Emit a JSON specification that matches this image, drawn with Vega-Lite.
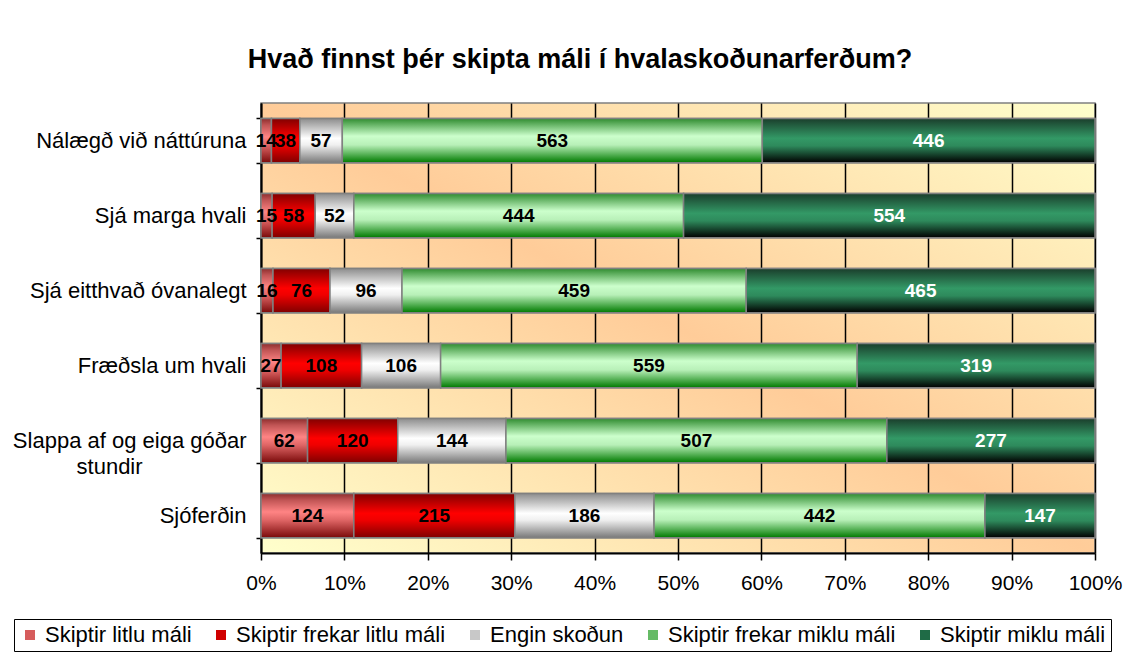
{
  "$schema": "https://vega.github.io/schema/vega-lite/v6.json",
  "width": 834,
  "height": 450,
  "autosize": {"type": "none"},
  "padding": {"left": 261, "top": 103, "right": 29, "bottom": 104},
  "background": "white",
  "title": {
    "text": "Hvað finnst þér skipta máli í hvalaskoðunarferðum?",
    "anchor": "middle",
    "dx": -98,
    "offset": 18,
    "font": "Liberation Sans",
    "fontSize": 27,
    "fontWeight": "bold",
    "color": "black"
  },
  "data": {
    "values": [
      {"cat": "Nálægð við náttúruna", "series": "Skiptir litlu máli", "ord": 1, "n": 14},
      {"cat": "Nálægð við náttúruna", "series": "Skiptir frekar litlu máli", "ord": 2, "n": 38},
      {"cat": "Nálægð við náttúruna", "series": "Engin skoðun", "ord": 3, "n": 57},
      {"cat": "Nálægð við náttúruna", "series": "Skiptir frekar miklu máli", "ord": 4, "n": 563},
      {"cat": "Nálægð við náttúruna", "series": "Skiptir miklu máli", "ord": 5, "n": 446},
      {"cat": "Sjá marga hvali", "series": "Skiptir litlu máli", "ord": 1, "n": 15},
      {"cat": "Sjá marga hvali", "series": "Skiptir frekar litlu máli", "ord": 2, "n": 58},
      {"cat": "Sjá marga hvali", "series": "Engin skoðun", "ord": 3, "n": 52},
      {"cat": "Sjá marga hvali", "series": "Skiptir frekar miklu máli", "ord": 4, "n": 444},
      {"cat": "Sjá marga hvali", "series": "Skiptir miklu máli", "ord": 5, "n": 554},
      {"cat": "Sjá eitthvað óvanalegt", "series": "Skiptir litlu máli", "ord": 1, "n": 16},
      {"cat": "Sjá eitthvað óvanalegt", "series": "Skiptir frekar litlu máli", "ord": 2, "n": 76},
      {"cat": "Sjá eitthvað óvanalegt", "series": "Engin skoðun", "ord": 3, "n": 96},
      {"cat": "Sjá eitthvað óvanalegt", "series": "Skiptir frekar miklu máli", "ord": 4, "n": 459},
      {"cat": "Sjá eitthvað óvanalegt", "series": "Skiptir miklu máli", "ord": 5, "n": 465},
      {"cat": "Fræðsla um hvali", "series": "Skiptir litlu máli", "ord": 1, "n": 27},
      {"cat": "Fræðsla um hvali", "series": "Skiptir frekar litlu máli", "ord": 2, "n": 108},
      {"cat": "Fræðsla um hvali", "series": "Engin skoðun", "ord": 3, "n": 106},
      {"cat": "Fræðsla um hvali", "series": "Skiptir frekar miklu máli", "ord": 4, "n": 559},
      {"cat": "Fræðsla um hvali", "series": "Skiptir miklu máli", "ord": 5, "n": 319},
      {"cat": "Slappa af og eiga góðar stundir", "series": "Skiptir litlu máli", "ord": 1, "n": 62},
      {"cat": "Slappa af og eiga góðar stundir", "series": "Skiptir frekar litlu máli", "ord": 2, "n": 120},
      {"cat": "Slappa af og eiga góðar stundir", "series": "Engin skoðun", "ord": 3, "n": 144},
      {"cat": "Slappa af og eiga góðar stundir", "series": "Skiptir frekar miklu máli", "ord": 4, "n": 507},
      {"cat": "Slappa af og eiga góðar stundir", "series": "Skiptir miklu máli", "ord": 5, "n": 277},
      {"cat": "Sjóferðin", "series": "Skiptir litlu máli", "ord": 1, "n": 124},
      {"cat": "Sjóferðin", "series": "Skiptir frekar litlu máli", "ord": 2, "n": 215},
      {"cat": "Sjóferðin", "series": "Engin skoðun", "ord": 3, "n": 186},
      {"cat": "Sjóferðin", "series": "Skiptir frekar miklu máli", "ord": 4, "n": 442},
      {"cat": "Sjóferðin", "series": "Skiptir miklu máli", "ord": 5, "n": 147}
    ]
  },
  "encoding": {
    "y": {
      "field": "cat",
      "type": "nominal",
      "sort": ["Nálægð við náttúruna", "Sjá marga hvali", "Sjá eitthvað óvanalegt", "Fræðsla um hvali", "Slappa af og eiga góðar stundir", "Sjóferðin"],
      "scale": {"paddingInner": 0.41, "paddingOuter": 0.205},
      "axis": {
        "title": null,
        "tickBand": "extent",
        "ticks": true,
        "tickSize": 5,
        "tickColor": "black",
        "tickWidth": 1.5,
        "domainColor": "black",
        "domainWidth": 2,
        "grid": false,
        "labelFont": "Liberation Sans",
        "labelFontSize": 22,
        "labelColor": "black",
        "labelPadding": 10,
        "labelLimit": 300,
        "labelLineHeight": 26,
        "labelExpr": "datum.value == 'Slappa af og eiga góðar stundir' ? ['Slappa af og eiga góðar', 'stundir\u00a0\u00a0\u00a0\u00a0\u00a0\u00a0\u00a0\u00a0\u00a0\u00a0\u00a0\u00a0\u00a0\u00a0\u00a0\u00a0\u00a0\u200b'] : datum.value"
      }
    },
    "x": {
      "field": "n",
      "type": "quantitative",
      "stack": "normalize",
      "scale": {"domain": [0, 1]},
      "axis": {
        "title": null,
        "format": ".0%",
        "values": [0, 0.1, 0.2, 0.3, 0.4, 0.5, 0.6, 0.7, 0.8, 0.9, 1],
        "grid": true,
        "gridColor": "black",
        "gridWidth": 1.5,
        "gridOpacity": 1,
        "domainColor": "black",
        "domainWidth": 2,
        "tickColor": "black",
        "tickWidth": 1.5,
        "tickSize": 7,
        "labelFont": "Liberation Sans",
        "labelFontSize": 21,
        "labelColor": "black",
        "labelPadding": 12,
        "labelFlush": false
      }
    },
    "order": {"field": "ord", "type": "quantitative"}
  },
  "layer": [
    {
      "mark": {"type": "bar", "stroke": "#808080", "strokeWidth": 1.5},
      "encoding": {
        "color": {
          "field": "series",
          "type": "nominal",
          "scale": {
            "domain": ["Skiptir litlu máli", "Skiptir frekar litlu máli", "Engin skoðun", "Skiptir frekar miklu máli", "Skiptir miklu máli"],
            "range": ["#d65c5c", "#d00000", "#c8c8c8", "#66bb66", "#1f6b46"]
          },
          "legend": {
            "orient": "none",
            "legendX": -247,
            "legendY": 516,
            "direction": "horizontal",
            "title": null,
            "strokeColor": "black",
            "fillColor": "white",
            "padding": 5,
            "symbolType": "square",
            "symbolSize": 100,
            "symbolStrokeWidth": 0,
            "labelFont": "Liberation Sans",
            "labelFontSize": 22,
            "labelColor": "black",
            "labelOffset": 4,
            "columnPadding": 18,
            "labelLimit": 400
          }
        }
      }
    },
    {
      "mark": {
        "type": "bar",
        "stroke": "#808080",
        "strokeWidth": 1.5,
        "fill": {"expr": "datum.series == 'Skiptir litlu máli' ? {gradient:'linear',x1:0,y1:0,x2:0,y2:1,stops:[{offset:0,color:'#8c2c2c'},{offset:0.15,color:'#c05454'},{offset:0.42,color:'#ff8484'},{offset:0.6,color:'#e06666'},{offset:1,color:'#7a0a0a'}]} : datum.series == 'Skiptir frekar litlu máli' ? {gradient:'linear',x1:0,y1:0,x2:0,y2:1,stops:[{offset:0,color:'#800000'},{offset:0.45,color:'#ff0000'},{offset:0.6,color:'#f00000'},{offset:1,color:'#800000'}]} : datum.series == 'Engin skoðun' ? {gradient:'linear',x1:0,y1:0,x2:0,y2:1,stops:[{offset:0,color:'#8c8c8c'},{offset:0.45,color:'#ffffff'},{offset:0.6,color:'#f0f0f0'},{offset:1,color:'#7a7a7a'}]} : datum.series == 'Skiptir frekar miklu máli' ? {gradient:'linear',x1:0,y1:0,x2:0,y2:1,stops:[{offset:0,color:'#2e8b2e'},{offset:0.4,color:'#ccffcc'},{offset:0.6,color:'#b8f0b8'},{offset:1,color:'#007a00'}]} : {gradient:'linear',x1:0,y1:0,x2:0,y2:1,stops:[{offset:0,color:'#1a3d2b'},{offset:0.45,color:'#339966'},{offset:0.62,color:'#2e8a5c'},{offset:1,color:'#000000'}]}"}
      },
      "encoding": {
        "detail": {"field": "series"}
      }
    },
    {
      "mark": {"type": "text", "font": "Liberation Sans", "fontWeight": "bold", "fontSize": 19, "baseline": "middle", "align": "center"},
      "encoding": {
        "x": {"field": "n", "type": "quantitative", "stack": "normalize", "bandPosition": 0.5},
        "detail": {"field": "series"},
        "text": {"field": "n", "type": "quantitative"},
        "color": {"condition": {"test": "datum.series === 'Skiptir miklu máli'", "value": "white"}, "value": "black"}
      }
    }
  ],
  "config": {
    "view": {
      "fill": {"expr": "{gradient:'linear',x1:0,y1:1,x2:1,y2:0,stops:[{offset:0,color:'#FFFFCC'},{offset:0.5,color:'#FFCC99'},{offset:1,color:'#FFFFCC'}]}"},
      "stroke": "#808080",
      "strokeWidth": 1.5
    }
  }
}
